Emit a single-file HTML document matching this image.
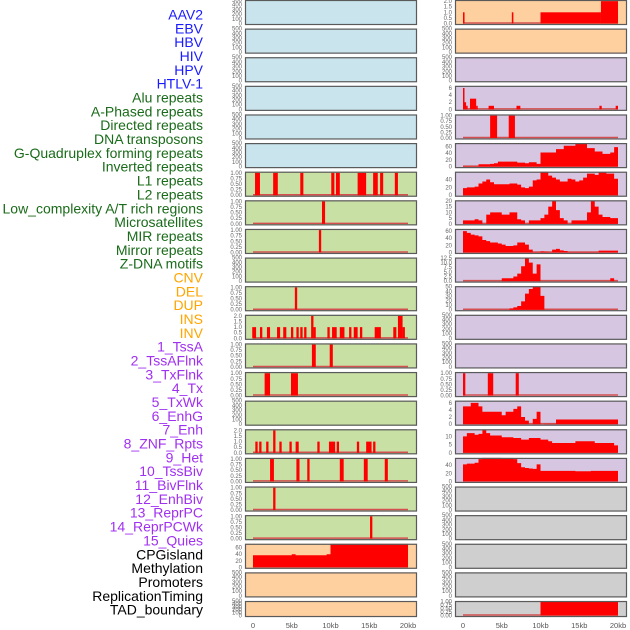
<!DOCTYPE html>
<html><head><meta charset="utf-8"><style>
html,body{margin:0;padding:0;background:#fff;}
svg{display:block;font-family:"Liberation Sans",sans-serif;}
</style></head><body>
<svg id="c" width="630" height="630" viewBox="0 0 630 630"></svg>
<script>
// ---- data ----
const trackLabels=["AAV2","EBV","HBV","HIV","HPV","HTLV-1","Alu repeats","A-Phased repeats","Directed repeats","DNA transposons","G-Quadruplex forming repeats","Inverted repeats","L1 repeats","L2 repeats","Low_complexity A/T rich regions","Microsatellites","MIR repeats","Mirror repeats","Z-DNA motifs","CNV","DEL","DUP","INS","INV","1_TssA","2_TssAFlnk","3_TxFlnk","4_Tx","5_TxWk","6_EnhG","7_Enh","8_ZNF_Rpts","9_Het","10_TssBiv","11_BivFlnk","12_EnhBiv","13_ReprPC","14_ReprPCWk","15_Quies","CPGisland","Methylation","Promoters","ReplicationTiming","TAD_boundary"];
const labelGroups=["v","v","v","v","v","v","r","r","r","r","r","r","r","r","r","r","r","r","r","s","s","s","s","s","h","h","h","h","h","h","h","h","h","h","h","h","h","h","h","o","o","o","o","o"];
const xTicks=[0,5,10,15,20];
const xTickLabels=["0","5kb","10kb","15kb","20kb"];
const ticks500=[0,100,200,300,400,500];
const ticks1=[0,0.25,0.5,0.75,1];
const ticks2=[0,0.5,1,1.5,2];
// spike tracks: start kb, end kb, height
const L6_s=[0.26,2.6,6.1,10.1,10.7,13.5,15.5,16.4,18.3], L6_e=[0.9,3.2,6.5,10.5,11.2,14.6,16.1,16.8,18.7], L6_h=[1,1,1,1,1,1,1,1,1];
const L7_s=[8.9], L7_e=[9.3], L7_h=[1];
const L8_s=[8.5], L8_e=[8.8], L8_h=[1];
const L10_s=[5.4], L10_e=[5.7], L10_h=[1];
const L11_s=[-0.1,0.9,1.8,3.1,3.9,4.9,5.6,6.1,6.6,7.5,7.8,9.6,10.2,11.2,12.4,13.0,13.8,15.7,18.1,18.7,19.3];
const L11_e=[0.4,1.2,2.2,3.5,4.3,5.2,5.9,6.4,6.9,7.8,8.1,9.9,10.8,11.8,12.7,13.5,14.1,16.5,18.5,19.3,19.6];
const L11_h=[1,1,1,1,1,1,1,1,1,2,1,1,1,1,1,1,1,1,1,2,1];
const L12_s=[7.6,9.9], L12_e=[8.1,10.3], L12_h=[1,1];
const L13_s=[1.5,4.9], L13_e=[2.2,5.8], L13_h=[1,1];
const L15_s=[0.3,0.8,1.7,2.6,3.4,4.7,5.5,8.3,9.8,10.8,13.4,14.6,15.5];
const L15_e=[0.6,1.1,2.0,2.9,3.7,5.0,5.9,8.6,10.6,11.1,13.7,15.3,15.8];
const L15_h=[1,1,1,2,1,1,1,1,1,1,1,1,1];
const L16_s=[2.2,5.6,7.0,11.2,14.3,17.0], L16_e=[2.7,6.0,7.3,11.7,14.8,17.4], L16_h=[1,1,1,1,1,1];
const L17_s=[2.6], L17_e=[2.9], L17_h=[1];
const L18_s=[15.1], L18_e=[15.4], L18_h=[1];
const R0_s=[0,6.3,10,17.8], R0_e=[0.2,6.5,17.8,20], R0_h=[1,1,1,2];
const R3_s=[0,0.15,0.4,0.9,1.7,3.3,6.9,17.6,19.7], R3_e=[0.15,0.4,0.6,1.7,1.9,4.0,7.4,17.9,20], R3_h=[6,2,1,3,1,1,1,1,1];
const R4_s=[3.5,5.9], R4_e=[4.4,6.7], R4_h=[1,1];
const R13_s=[0,3.2,6.8], R13_e=[0.3,3.9,7.2], R13_h=[1,1,1];
const R21_s=[10], R21_e=[20], R21_h=[1];
// binned tracks: 40 bins of 0.5kb
const L19_v=[37,37,37,37,37,37,37,37,37,37,40,37,37,37,37,37,37,37,37,40,72,72,72,72,72,72,72,72,72,72,72,72,72,72,72,72,72,72,72,72];
const R5_v=[1,1,1,1,7,7,7,8,10,15,15,15,15,15,12,12,10,13,13,8,42,42,42,42,52,52,62,62,62,68,68,68,55,55,45,45,38,38,42,58];
const R6_v=[18,20,20,22,30,35,40,33,28,28,28,28,30,30,27,20,18,22,38,40,60,60,50,45,40,35,35,42,40,35,38,45,55,55,52,58,58,55,55,42];
const R7_v=[3,3,3,4,3,0,8,10,10,10,8,8,10,10,4,3,0,3,3,3,5,8,15,20,12,5,3,0,3,3,3,3,10,20,15,8,6,6,5,5];
const R8_v=[60,55,50,48,45,35,32,28,28,25,22,18,18,20,28,28,22,8,1,1,3,2,1,8,10,6,4,1,1,1,1,1,1,1,1,5,5,5,5,5];
const R9_v=[0,0,0,0,0,0,0,0,0,0,1.5,1.5,1.5,2.5,4,8,12.5,10,4,9,0,0,0,0,0,0,0,0,0,0,0,0,0,0,0,0,0,0,1.5,0];
const R10_v=[0,0,0,0,0,0,0,0,0,0,0,0,3,5,8,18,35,45,50,50,30,0,0,0,0,0,0,0,0,0,0,0,0,0,0,0,0,0,0,0];
const R14_v=[5,5,6,6,5,3.5,3.5,3.5,3.5,3.5,2.5,3.5,3.5,4.3,5,2,1,0,1.5,3.5,0,0.1,0.1,0.1,1.3,1.3,1.3,1.3,1.3,1.3,1.3,1.3,1.3,1.3,1.3,1.3,1.3,1.3,1.3,1.3];
const R15_v=[10,12,12,11,11.5,14,12,10.5,10.5,10.5,9.5,9.5,9.5,9,9,8,8,9,9,9,8,8,7,6,6,6,6,6,6,7,7,7,7,7,6,6,6,6,6,4.5];
const R16_v=[42,44,44,46,55,60,60,60,60,60,58,58,58,55,45,35,33,32,31,42,26,26,26,26,26,26,26,26,26,25,25,25,25,26,26,26,26,26,26,26];

const BG={b:"#c9e4ec",g:"#c9e0a5",o:"#ffd09f",p:"#d6c6e2",y:"#cfcfcf"};
// panels: [col,row,bg,axisMax,ticks,type,arrays...]
const panels=[];
for(let r=0;r<6;r++)panels.push({c:0,r:r,bg:"b",max:500,t:ticks500});
panels.push({c:0,r:6,bg:"g",max:1.05,t:ticks1,s:[L6_s,L6_e,L6_h]});
panels.push({c:0,r:7,bg:"g",max:1.05,t:ticks1,s:[L7_s,L7_e,L7_h]});
panels.push({c:0,r:8,bg:"g",max:1.05,t:ticks1,s:[L8_s,L8_e,L8_h]});
panels.push({c:0,r:9,bg:"g",max:500,t:ticks500});
panels.push({c:0,r:10,bg:"g",max:1.05,t:ticks1,s:[L10_s,L10_e,L10_h]});
panels.push({c:0,r:11,bg:"g",max:2.1,t:ticks2,s:[L11_s,L11_e,L11_h]});
panels.push({c:0,r:12,bg:"g",max:1.05,t:ticks1,s:[L12_s,L12_e,L12_h]});
panels.push({c:0,r:13,bg:"g",max:1.05,t:ticks1,s:[L13_s,L13_e,L13_h]});
panels.push({c:0,r:14,bg:"g",max:500,t:ticks500});
panels.push({c:0,r:15,bg:"g",max:2.1,t:ticks2,s:[L15_s,L15_e,L15_h]});
panels.push({c:0,r:16,bg:"g",max:1.05,t:ticks1,s:[L16_s,L16_e,L16_h]});
panels.push({c:0,r:17,bg:"g",max:1.05,t:ticks1,s:[L17_s,L17_e,L17_h]});
panels.push({c:0,r:18,bg:"g",max:1.05,t:ticks1,s:[L18_s,L18_e,L18_h]});
panels.push({c:0,r:19,bg:"o",max:72,t:[0,20,40,60],v:L19_v});
panels.push({c:0,r:20,bg:"o",max:500,t:ticks500});
panels.push({c:0,r:21,bg:"o",max:500,t:ticks500,h:16});
panels.push({c:1,r:0,bg:"o",max:2.1,t:ticks2,s:[R0_s,R0_e,R0_h]});
panels.push({c:1,r:1,bg:"o",max:500,t:ticks500});
panels.push({c:1,r:2,bg:"p",max:500,t:ticks500});
panels.push({c:1,r:3,bg:"p",max:6.6,t:[0,2,4,6],s:[R3_s,R3_e,R3_h]});
panels.push({c:1,r:4,bg:"p",max:1.05,t:ticks1,s:[R4_s,R4_e,R4_h]});
panels.push({c:1,r:5,bg:"p",max:70,t:[0,20,40,60],v:R5_v});
panels.push({c:1,r:6,bg:"p",max:60,t:[0,20,40],v:R6_v});
panels.push({c:1,r:7,bg:"p",max:20.5,t:[0,5,10,15,20],v:R7_v});
panels.push({c:1,r:8,bg:"p",max:66,t:[0,20,40,60],v:R8_v});
panels.push({c:1,r:9,bg:"p",max:12.7,t:[0,2.5,5,7.5,10,12.5],tl:["0.0","2.5","5.0","7.5","10.0","12.5"],v:R9_v});
panels.push({c:1,r:10,bg:"p",max:51,t:[0,10,20,30,40,50],v:R10_v});
panels.push({c:1,r:11,bg:"p",max:500,t:ticks500});
panels.push({c:1,r:12,bg:"p",max:500,t:ticks500});
panels.push({c:1,r:13,bg:"p",max:1.05,t:ticks1,s:[R13_s,R13_e,R13_h]});
panels.push({c:1,r:14,bg:"p",max:6.6,t:[0,2,4,6],v:R14_v});
panels.push({c:1,r:15,bg:"p",max:14.3,t:[0,5,10],v:R15_v});
panels.push({c:1,r:16,bg:"p",max:58,t:[0,20,40],v:R16_v});
for(let r=17;r<21;r++)panels.push({c:1,r:r,bg:"y",max:500,t:ticks500});
panels.push({c:1,r:21,bg:"y",max:1.05,t:ticks1,s:[R21_s,R21_e,R21_h],h:16});

// ---- drawing ----
const svg=document.getElementById('c');
const NS="http://www.w3.org/2000/svg";
function mk(tag,attrs,parent){const e=document.createElementNS(NS,tag);for(const k in attrs)e.setAttribute(k,attrs[k]);(parent||svg).appendChild(e);return e;}
const labelColors={v:"#1a1aff",r:"#1a6b1a",s:"#ffa500",h:"#a030f0",o:"#000"};
trackLabels.forEach((t,i)=>{
  const e=mk('text',{x:203,y:14.5+i*13.84,'text-anchor':'end','dominant-baseline':'central','font-size':14,fill:labelColors[labelGroups[i]]});
  e.textContent=t;
  
  
});
const colX=[245,455], PW=172;
function xs(c,kb){return colX[c]+8+kb*7.75;}
function fmt(v,t){if(t===ticks1)return v.toFixed(2);if(t===ticks2)return v.toFixed(1);return String(v);}
panels.forEach(p=>{
  const top=p.r*28.62, h=p.h||25, x0=colX[p.c];
  const g=mk('g',{});
  
  
  mk('rect',{x:x0,y:top,width:PW,height:h,fill:BG[p.bg]},g);
  const base=top+h-1.5;
  const ys=v=>base-v*(h-1.5)/p.max;
  const cp='cp'+p.c+'_'+p.r;
  const cl=mk('clipPath',{id:cp},g);mk('rect',{x:x0,y:top,width:PW,height:h},cl);
  const dg=mk('g',{'clip-path':'url(#'+cp+')'},g);
  if(p.s||p.v) mk('line',{x1:xs(p.c,0),x2:xs(p.c,20),y1:base-0.5,y2:base-0.5,stroke:'#d45050','stroke-width':1.5},dg);
  if(p.s){const[s,e,hh]=p.s;s.forEach((a,i)=>{const x=xs(p.c,a),w=Math.max(1.5,xs(p.c,e[i])-x);
    const b=mk('rect',{x:x,y:ys(hh[i]),width:w,height:base-ys(hh[i]),fill:'#ff0000'},dg);
    
    });}
  if(p.v){let d='M'+xs(p.c,0)+' '+base;p.v.forEach((v,i)=>{const y=ys(v);d+=' L'+xs(p.c,i*0.5)+' '+y+' L'+xs(p.c,(i+1)*0.5)+' '+y;});d+=' L'+xs(p.c,20)+' '+base+' Z';
    const a=mk('path',{d:d,fill:'#ff0000'},dg);
    
    }
  mk('rect',{x:x0+0.5,y:top+0.5,width:PW-1,height:h-1,fill:'none',stroke:'#5a5a5a','stroke-width':1.2},g);
  p.t.forEach((t,i)=>{const e=mk('text',{x:x0-3,y:ys(t)+2,'text-anchor':'end','font-size':6,fill:'#666'},g);e.textContent=p.tl?p.tl[i]:fmt(t,p.t);});
});
[0,1].forEach(c=>{xTicks.forEach((k,i)=>{const e=mk('text',{x:xs(c,k),y:628,'text-anchor':'middle','font-size':7.5,fill:'#555'});e.textContent=xTickLabels[i];
  
  });});
</script>
</body></html>
